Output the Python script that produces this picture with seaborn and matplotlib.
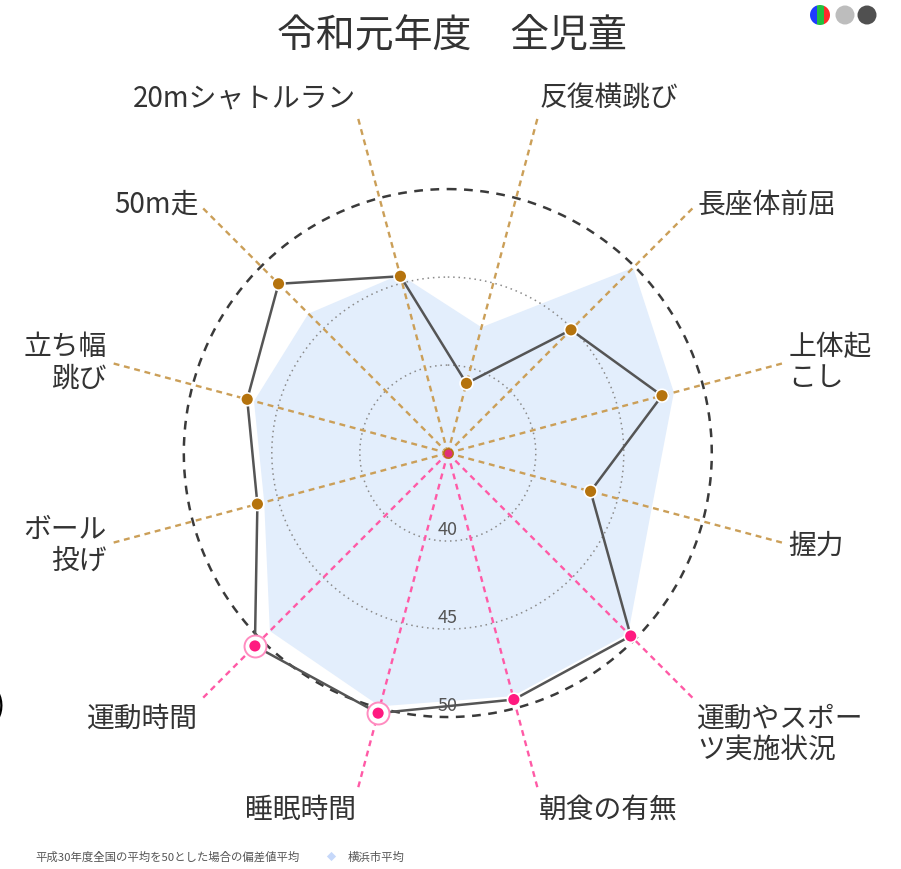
import numpy as np
import matplotlib
matplotlib.use('Agg')
import matplotlib.pyplot as plt
import seaborn as sns
from matplotlib.patches import Circle, Rectangle

# データ（偏差値平均）
categories = ['反復横跳び', '長座体前屈', '上体起\nこし', '握力',
              '運動やスポー\nツ実施状況', '朝食の有無', '睡眠時間', '運動時間',
              'ボール\n投げ', '立ち幅\n跳び', '50m走', '20mシャトルラン']
zenjidou = [39.1, 44.9, 47.6, 43.4, 49.7, 49.5, 50.3, 50.5, 46.2, 46.8, 48.6, 45.4]
yokohama = [42.4, 49.9, 48.3, 47.0, 49.5, 49.3, 49.9, 49.3, 45.8, 46.4, 46.2, 45.5]
kind = ['体力', '体力', '体力', '体力', '生活', '生活', '生活', '生活',
        '体力', '体力', '体力', '体力']
highlight = [False, False, False, False, False, False, True, True,
             False, False, False, False]
r_ticks = [40, 45, 50]
title = '令和元年度　全児童'
note = '平成30年度全国の平均を50とした場合の偏差値平均'
legend_label = '横浜市平均'

BROWN = '#b5730d'
TAN = '#cb9f58'
PINK = '#ff1a80'
PINK_AX = '#ff5aa6'
BLUE = '#e3eefc'

sns.set_theme(style='white')
plt.rcParams['font.family'] = ['Noto Sans CJK JP', 'DejaVu Sans']

fig = plt.figure(figsize=(9.01, 8.70), dpi=100)
ax = fig.add_axes([0.204, 0.1746, 0.586, 0.607], projection='polar')
ax.set_theta_zero_location('N')
ax.set_theta_direction(-1)

n = len(categories)
theta = np.radians(15 + 30 * np.arange(n))
th_c = np.append(theta, theta[0])
zen_c = np.append(zenjidou, zenjidou[0])
yok_c = np.append(yokohama, yokohama[0])

# 横浜市平均（塗り）
ax.fill(th_c, yok_c, color=BLUE, lw=0, zorder=1, clip_on=False)

# 目盛りの円
t = np.linspace(0, 2 * np.pi, 361)
for v in r_ticks:
    if v == r_ticks[-1]:
        ax.plot(t, np.full_like(t, v), color='#3a3a3a', lw=1.8, ls=(0, (3.5, 3)),
                zorder=2, clip_on=False)
    else:
        ax.plot(t, np.full_like(t, v), color='#8a8a8a', lw=1.1, ls=(0, (1, 2.5)), zorder=2)
    ax.text(np.pi, v - 0.15, str(v), ha='center', va='bottom', fontsize=13,
            color='#555555', zorder=3)

# 軸線
r_end = 54.83
for i in range(n):
    c = TAN if kind[i] == '体力' else PINK_AX
    ax.plot([theta[i], theta[i]], [35, r_end], color=c, lw=1.7,
            ls=(0, (2.5, 2)), clip_on=False, zorder=3)

# 全児童の線
sns.lineplot(x=th_c, y=zen_c, sort=False, estimator=None, ax=ax,
             color='#555555', lw=1.8, zorder=4, clip_on=False)

# 強調リング
hl = np.array(highlight)
ax.scatter(theta[hl], np.array(zenjidou)[hl], s=250, facecolor='white',
           edgecolor='#ff8cc0', linewidth=1.4, zorder=5, clip_on=False)

sns.scatterplot(x=theta, y=zenjidou, hue=kind, palette={'体力': BROWN, '生活': PINK},
                s=85, edgecolor='white', linewidth=1.2, legend=False, ax=ax,
                zorder=6, clip_on=False)
ax.scatter([0], [35], s=45, color='#e0307a', edgecolor=BROWN, linewidth=1, zorder=6)

# 項目ラベル
for i, lab in enumerate(categories):
    deg = 15 + 30 * i
    ha = 'left' if deg < 180 else 'right'
    if deg in (15, 345):
        va = 'bottom'
    elif 120 < deg < 240:
        va = 'top'
    else:
        va = 'center'
    ax.text(theta[i], 55.05, lab, ha=ha, va=va, fontsize=20, color='#333333',
            linespacing=1.05, clip_on=False)

ax.set_ylim(35, 50)
ax.axis('off')

# タイトルと注記
fig.text(452 / 901, 1 - 35 / 870, title, ha='center', va='center',
         fontsize=28, color='#333333')
fig.text(35 / 901, 1 - 857 / 870, note, ha='left', va='center',
         fontsize=8.2, color='#555555')
fig.text(348 / 901, 1 - 857 / 870, legend_label, ha='left', va='center',
         fontsize=8.2, color='#555555')
fig.text(5 / 901, 1 - 707 / 870, ')', ha='right', va='center',
         fontsize=22, color='black')

# 右上のアイコンと凡例記号
ov = fig.add_axes([0, 0, 1, 1])
ov.set_xlim(0, 901)
ov.set_ylim(870, 0)
ov.axis('off')
ov.scatter([331], [857], marker='D', s=22, color='#c6d8fa', lw=0)
clip = Circle((820, 16), 10, transform=ov.transData)
for x0, c in [(810, '#1f3cff'), (817, '#22c040'), (824, '#ff2b2b')]:
    r = Rectangle((x0, 5), 7, 22, color=c, lw=0)
    ov.add_patch(r)
    r.set_clip_path(clip)
ov.add_patch(Circle((845, 16), 9.5, color='#bdbdbd', lw=0))
ov.add_patch(Circle((867, 16), 9.5, color='#505050', lw=0))

fig.savefig('out.png', dpi=100)
